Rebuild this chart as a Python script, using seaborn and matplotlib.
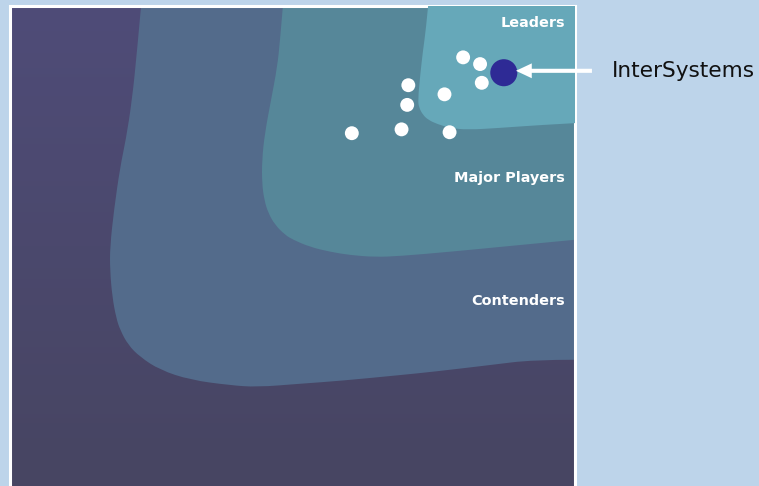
import numpy as np
import matplotlib
matplotlib.use("Agg")
import matplotlib.pyplot as plt
from matplotlib.colors import LinearSegmentedColormap
from matplotlib.path import Path
from matplotlib.patches import PathPatch
import seaborn as sns

# vendor positions (strategies on x, capabilities on y, 0-100 scale)
vendor_x = [80.2, 83.2, 83.5, 76.9, 70.5, 70.3, 69.3, 60.5, 77.8]
vendor_y = [89.3, 87.9, 84.0, 81.6, 83.5, 79.4, 74.3, 73.5, 73.7]
highlight_name = "InterSystems"
highlight_x = [87.4]
highlight_y = [86.1]

# zone boundaries, traced from the top edge round to the right edge
contenders_x = [23.2, 22.5, 21.6, 20.5, 19.5, 18.4, 17.7, 17.7, 18.1, 18.8, 19.5, 20.9,
                23.0, 26.5, 31.9, 38.9, 43.7, 51.3, 58.4, 69.0, 74.9, 85.0, 92.6, 100]
contenders_y = [100, 90.8, 80.4, 72.1, 66.5, 57.5, 49.8, 45.0, 39.4, 35.0, 32.5, 29.4,
                26.9, 24.2, 22.1, 21.0, 20.6, 21.3, 21.9, 23.1, 23.8, 25.2, 26.3, 26.3]
major_x = [48.3, 47.8, 47.3, 46.2, 45.1, 44.6, 44.6, 45.0, 45.7, 46.9, 48.7, 50.1,
           53.1, 56.6, 60.2, 64.6, 69.0, 77.9, 86.7, 93.8, 100]
major_y = [100, 92.9, 87.3, 80.4, 73.5, 67.9, 63.1, 59.6, 56.9, 54.4, 52.3, 51.3,
           49.8, 48.8, 48.1, 47.7, 47.9, 48.8, 49.8, 50.6, 51.3]
leaders_x = [74.0, 73.6, 73.1, 72.6, 72.2, 72.4, 73.1, 74.0, 75.6, 77.9, 80.9, 86.7, 93.8, 100]
leaders_y = [100, 95.0, 90.8, 85.6, 80.4, 78.8, 77.3, 76.3, 75.4, 74.6, 74.2, 74.6, 75.2, 75.6]

zone_names = ["Leaders", "Major Players", "Contenders"]


def zone_patch(xs, ys, color, z):
    # smooth outline: traced points act as quadratic bezier controls
    pts = list(zip(xs, ys))
    verts = [pts[0]]
    codes = [Path.MOVETO]
    for i in range(1, len(pts) - 1):
        mid = ((pts[i][0] + pts[i + 1][0]) / 2, (pts[i][1] + pts[i + 1][1]) / 2)
        if i == len(pts) - 2:
            mid = pts[i + 1]
        verts += [pts[i], mid]
        codes += [Path.CURVE3, Path.CURVE3]
    verts += [(100, 100), (100, 100)]
    codes += [Path.LINETO, Path.CLOSEPOLY]
    return PathPatch(Path(verts, codes), facecolor=color, lw=0, zorder=z)


sns.set_style("white")
plt.rcParams['font.family'] = ['DejaVu Sans']

fig = plt.figure(figsize=(7.59, 4.86), dpi=100)
fig.patch.set_facecolor('#bdd4ea')
ax = fig.add_axes([10 / 759, 0, 565 / 759, 480 / 486])
ax.set_xlim(0, 100)
ax.set_ylim(0, 100)

# outer zone: soft vertical gradient
grad = LinearSegmentedColormap.from_list('outer', ['#474562', '#4f4c78'])
ax.imshow(np.linspace(0, 1, 64).reshape(-1, 1), cmap=grad, origin='lower',
          extent=[0, 100, 0, 100], aspect='auto', interpolation='bicubic', zorder=0)

ax.add_patch(zone_patch(contenders_x, contenders_y, '#536b8b', 1))
ax.add_patch(zone_patch(major_x, major_y, '#568799', 2))
ax.add_patch(zone_patch(leaders_x, leaders_y, '#66a8b9', 3))

sns.scatterplot(x=vendor_x, y=vendor_y, s=100, color='white', edgecolor='none', ax=ax, zorder=5)
sns.scatterplot(x=highlight_x, y=highlight_y, s=380, color='#2e2a95', edgecolor='none', ax=ax, zorder=6)

# zone labels
label_y = [96.5, 64.1, 38.5]
for name, ly in zip(zone_names, label_y):
    ax.text(98.2, ly, name, color='white', fontsize=10.4, fontweight='bold',
            ha='right', va='center', zorder=7)

# arrow + callout
ax.arrow(103.0, 86.5, -13.45, 0, width=0.85, head_width=3.1, head_length=2.8,
         length_includes_head=True, color='white', lw=0, clip_on=False, zorder=8)
ax.text(106.5, 85.2, highlight_name, fontsize=15.6, color='#111111', ha='left',
        va='baseline', clip_on=False)

ax.set_xticks([])
ax.set_yticks([])
for side in ['top', 'left', 'right']:
    ax.spines[side].set_color('white')
    ax.spines[side].set_linewidth(2.2)
ax.spines['bottom'].set_visible(False)

fig.savefig('out.png', dpi=100)
